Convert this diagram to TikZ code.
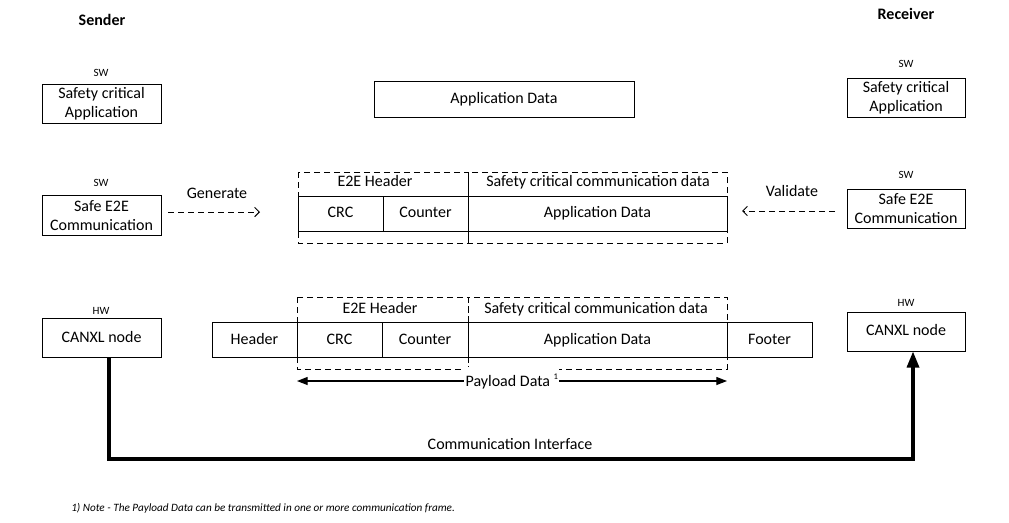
\documentclass[tikz,border=0pt]{standalone}
\usepackage{fontspec}
\setmainfont{Carlito}
\usetikzlibrary{arrows.meta}
\begin{document}
\begin{tikzpicture}[x=0.75pt,y=-0.75pt,
  txt/.style={font=\fontsize{12}{14.25}\selectfont, inner sep=0pt, text height=8pt, text depth=1pt},
  two/.style={font=\fontsize{12}{14.25}\selectfont, inner sep=0pt, align=center},
  small/.style={font=\fontsize{8.3}{10}\selectfont, inner sep=0pt, text height=5.5pt, text depth=0pt},
  ttl/.style={font=\fontsize{12}{14}\selectfont\bfseries, inner sep=0pt, text height=8pt, text depth=1pt},
  thin/.style={line width=0.75pt},
  dsh/.style={draw=black, line width=0.75pt, dash pattern=on 4.5pt off 3pt},
  dsharrow/.style={line width=0.75pt, dash pattern=on 4.5pt off 3pt, -{Straight Barb[length=3.5pt,width=7pt]}},
  pay/.style={line width=0.9pt, {Triangle[length=8pt,width=6pt]}-{Triangle[length=8pt,width=6pt]}},
  bus/.style={line width=2.4pt, -{Triangle[length=12pt,width=9pt]}}
]
\useasboundingbox (0,0) rectangle (1009,522);

% Titles
\node[ttl] (sender) at (102,21) {Sender};
\node[ttl] (receiver) at (906,15) {Receiver};

% Row 1
\node[small] (sw1) at (101,73) {SW};
\draw[thin] (42,84) rectangle (161,123);
\node[two] (app1) at (101.5,104) {Safety critical\\Application};
\draw[thin] (374,81) rectangle (634,117);
\node[txt] (appdata) at (504,99) {Application Data};
\node[small] (sw2) at (906,64) {SW};
\draw[thin] (847,78) rectangle (965,117);
\node[two] (app2) at (906,98) {Safety critical\\Application};

% Row 2
\node[small] (sw3) at (101,183) {SW};
\draw[thin] (42,195) rectangle (161,235);
\node[two] (e2e1) at (101.5,215.5) {Safe E2E\\Communication};
\coordinate (g1) at (168,212);
\coordinate (g2) at (260,212);
\draw[dsharrow] (g1) -- (g2);
\node[txt] (gen) at (217,194) {Generate};

\node[small] (sw4) at (906,175) {SW};
\draw[thin] (847,189) rectangle (965,228);
\node[two] (e2e2) at (906,209) {Safe E2E\\Communication};
\coordinate (v1) at (835,211);
\coordinate (v2) at (742,211);
\draw[dsharrow] (v1) -- (v2);
\node[txt] (val) at (792,192) {Validate};

% Row 2 frame
\draw[thin] (298,196) rectangle (727,231);
\draw[thin] (383,196) -- (383,231);
\draw[thin] (468,196) -- (468,231);
\draw[dsh] (298,172) rectangle (468,243);
\draw[dsh] (468,172) rectangle (727,243);
\node[txt] (crc2) at (340.5,213) {CRC};
\node[txt] (cnt2) at (425.5,213) {Counter};
\node[txt] (ad2) at (597.5,213) {Application Data};
\node[txt] (h2) at (375,182) {E2E Header};
\node[txt] (s2) at (598,182) {Safety critical communication data};

% Row 3
\node[small] (hw1) at (101,311) {HW};
\draw[thin] (42,318) rectangle (161,357);
\node[txt] (can1) at (101.5,338) {CANXL node};
\node[small] (hw2) at (906,303) {HW};
\draw[thin] (847,312) rectangle (965,351);
\node[txt] (can2) at (906,331) {CANXL node};

\draw[thin] (212,322) rectangle (812,357);
\foreach \xx in {297,382,468,727} \draw[thin] (\xx,322) -- (\xx,357);
\node[txt] (hdr) at (254.5,339.5) {Header};
\node[txt] (crc3) at (339.5,339.5) {CRC};
\node[txt] (cnt3) at (425,339.5) {Counter};
\node[txt] (ad3) at (597.5,339.5) {Application Data};
\node[txt] (ftr) at (769.5,339.5) {Footer};
\draw[dsh] (297,297) rectangle (468,369);
\draw[dsh] (468,297) rectangle (727,369);
\node[txt] (h3) at (380,309) {E2E Header};
\node[txt] (s3) at (596,309) {Safety critical communication data};

% Payload
\coordinate (p1) at (297,381);
\coordinate (p2) at (727,381);
\draw[pay] (p1) -- (p2);
\node[txt, fill=white, inner ysep=7pt, inner xsep=1pt, anchor=west] (pl) at (464,382) {Payload Data \raisebox{0.9ex}{\fontsize{6.5}{7}\selectfont 1}};

% Communication interface
\coordinate (c1) at (109,459);
\coordinate (c2) at (913,459);
\draw[bus] (109,357) -- (c1) -- (c2) -- (913,351.5);
\node[txt] (ci) at (510,445) {Communication Interface};

% Footnote
\node[font=\fontsize{8.4}{10}\selectfont\itshape, inner sep=0pt, anchor=west] (note) at (71,508) {1) Note - The Payload Data can be transmitted in one or more communication frame.};
\end{tikzpicture}
\end{document}
